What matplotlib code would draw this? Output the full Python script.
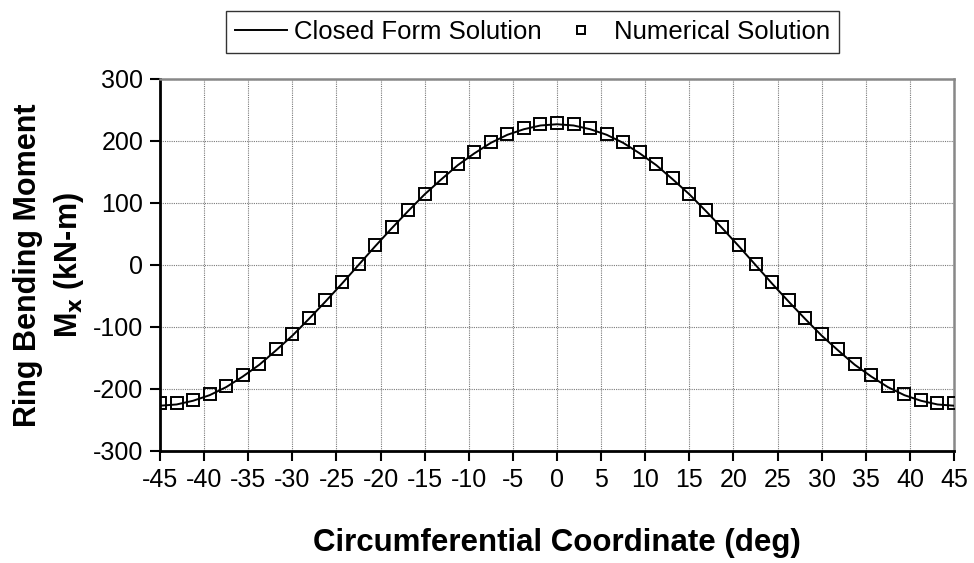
import numpy as np
import matplotlib
matplotlib.use('Agg')
import matplotlib.pyplot as plt

plt.rcParams['font.family'] = ['Liberation Sans', 'DejaVu Sans']
plt.rcParams['axes.unicode_minus'] = False

# circumferential coordinate of the ring nodes (deg), 48 elements over 90 deg
theta = [-45.0, -43.125, -41.25, -39.375, -37.5, -35.625, -33.75, -31.875,
         -30.0, -28.125, -26.25, -24.375, -22.5, -20.625, -18.75, -16.875,
         -15.0, -13.125, -11.25, -9.375, -7.5, -5.625, -3.75, -1.875,
         0.0, 1.875, 3.75, 5.625, 7.5, 9.375, 11.25, 13.125,
         15.0, 16.875, 18.75, 20.625, 22.5, 24.375, 26.25, 28.125,
         30.0, 31.875, 33.75, 35.625, 37.5, 39.375, 41.25, 43.125, 45.0]

# closed form ring bending moment (kN-m)
M_closed = [-227, -225, -219, -210, -197, -180, -161, -138,
            -114, -87, -59, -30, 0, 30, 59, 87,
            114, 138, 161, 180, 197, 210, 219, 225,
            227, 225, 219, 210, 197, 180, 161, 138,
            114, 87, 59, 30, 0, -30, -59, -87,
            -114, -138, -161, -180, -197, -210, -219, -225, -227]

# numerical (FE) ring bending moment (kN-m)
M_num = [-223, -222, -217, -208, -195, -178, -159, -136,
         -111, -85, -57, -27, 2, 32, 61, 89,
         115, 140, 163, 182, 199, 212, 221, 227,
         229, 227, 221, 212, 199, 182, 163, 140,
         115, 89, 61, 32, 2, -27, -57, -85,
         -111, -136, -159, -178, -195, -208, -217, -222, -223]

fig = plt.figure(figsize=(9.74, 5.63), dpi=100)
ax = fig.add_axes([0.1643, 0.199, 0.8152, 0.6607])

ax.plot(theta, M_closed, 'k-', lw=1.4, label='Closed Form Solution', zorder=3)
ax.plot(theta, M_num, 's', mfc='none', mec='k', mew=1.4, ms=8.5,
        label='Numerical Solution', zorder=4)

ax.set_xlim(-45, 45)
ax.set_ylim(-300, 300)
ax.set_xticks(np.arange(-45, 46, 5))
ax.set_yticks(np.arange(-300, 301, 100))
ax.grid(True, color='#7a7a7a', ls=(0, (1, 1)), lw=0.8)
ax.tick_params(axis='both', labelsize=18, direction='out', length=7,
               width=1.5, pad=5)

for s in ['left', 'bottom']:
    ax.spines[s].set_linewidth(2)
for s in ['top', 'right']:
    ax.spines[s].set_color('#888888')
    ax.spines[s].set_linewidth(1.8)

ax.set_xlabel('Circumferential Coordinate (deg)', fontsize=22.5,
              fontweight='bold', labelpad=26)
ax.set_ylabel('Ring Bending Moment\nM$_\\mathbf{x}$ (kN-m)', fontsize=22,
              fontweight='bold', linespacing=1.35, labelpad=5)

leg = fig.legend(loc='center', bbox_to_anchor=(0.547, 0.943), ncol=2,
                 fontsize=18.5, frameon=True, fancybox=False,
                 handlelength=2.0, columnspacing=0.5, handletextpad=0.3,
                 markerscale=0.7, borderpad=0.35, borderaxespad=0)
leg.get_frame().set_edgecolor('k')
leg.get_frame().set_linewidth(1.0)

fig.savefig('out.png', dpi=100)
